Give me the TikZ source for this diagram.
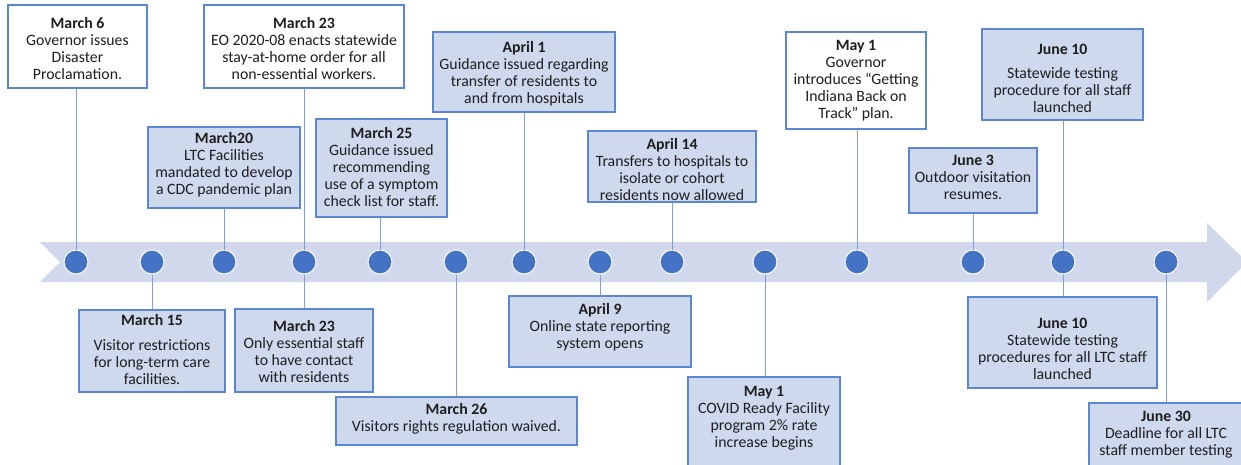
\documentclass[tikz,border=0pt]{standalone}
\usepackage{fontspec}
\setmainfont{Carlito}
\usetikzlibrary{fit}
\definecolor{boxfill}{HTML}{CFD9EE}
\definecolor{bandc}{HTML}{D1D8EC}
\definecolor{edgec}{HTML}{5A86D4}
\definecolor{dotc}{HTML}{4472C4}
\definecolor{linkc}{HTML}{7E9FDC}
\definecolor{txtc}{HTML}{1E1E1E}
\tikzset{
  evbox/.style={draw=edgec, line width=1.3pt, fill=boxfill, inner sep=0pt},
  whitebox/.style={draw=edgec, line width=1.3pt, fill=white, inner sep=0pt},
  evtext/.style={anchor=north, inner sep=0pt, align=center, font=\fontsize{15.8}{17}\selectfont, text=txtc, yshift=-0.6pt},
  evdot/.style={circle, fill=dotc, draw=white, line width=1pt, minimum size=24pt, inner sep=0pt},
  evlink/.style={draw=linkc, line width=1pt}
}
\begin{document}
\begin{tikzpicture}[x=1pt,y=-1pt]
\useasboundingbox (0,0) rectangle (1241,465);
\clip (0,0) rectangle (1241,465);
% band arrow
\fill[bandc] (40,242) -- (1207,242) -- (1207,223) -- (1247,262) -- (1207,302) -- (1207,282) -- (40,282) -- (60,262) -- cycle;
% dots
\node[evdot] (d1) at (76,262) {};
\node[evdot] (d2) at (152,262) {};
\node[evdot] (d3) at (224,262) {};
\node[evdot] (d4) at (304,262) {};
\node[evdot] (d5) at (380,262) {};
\node[evdot] (d6) at (456,262) {};
\node[evdot] (d7) at (524,262) {};
\node[evdot] (d8) at (600,262) {};
\node[evdot] (d9) at (672,262) {};
\node[evdot] (d10) at (765,262) {};
\node[evdot] (d11) at (857,262) {};
\node[evdot] (d12) at (973,262) {};
\node[evdot] (d13) at (1063,262) {};
\node[evdot] (d14) at (1166,262) {};
% boxes above
\node[whitebox, fit={(8,5) (147,88)}] (b1) {};
\node[whitebox, fit={(204,5) (404,88)}] (b2) {};
\node[evbox, fit={(148,127) (300,208)}] (b3) {};
\node[evbox, fit={(316,119) (447,217)}] (b4) {};
\node[evbox, fit={(433,32) (615,112)}] (b5) {};
\node[evbox, fit={(588,131) (756,202)}] (b6) {};
\node[whitebox, fit={(786,32) (926,129)}] (b7) {};
\node[evbox, fit={(909,148) (1037,213)}] (b8) {};
\node[evbox, fit={(982,29) (1143,120)}] (b9) {};
% boxes below
\node[evbox, fit={(79,310) (225,392)}] (b10) {};
\node[evbox, fit={(235,309) (373,392)}] (b11) {};
\node[evbox, fit={(336,397) (577,445)}] (b12) {};
\node[evbox, fit={(509,296) (691,367)}] (b13) {};
\node[evbox, fit={(688,377) (840,475)}] (b14) {};
\node[evbox, fit={(968,297) (1157,388)}] (b15) {};
\node[evbox, fit={(1089,403) (1250,475)}] (b16) {};
% connectors
\draw[evlink] (b1.south -| d1) -- (d1.north);
\draw[evlink] (b2.south -| d4) -- (d4.north);
\draw[evlink] (b3.south -| d3) -- (d3.north);
\draw[evlink] (b4.south -| d5) -- (d5.north);
\draw[evlink] (b5.south -| d7) -- (d7.north);
\draw[evlink] (b6.south -| d9) -- (d9.north);
\draw[evlink] (b7.south -| d11) -- (d11.north);
\draw[evlink] (b8.south -| d12) -- (d12.north);
\draw[evlink] (b9.south -| d13) -- (d13.north);
\draw[evlink] (d2.south) -- (b10.north -| d2);
\draw[evlink] (d4.south) -- (b11.north -| d4);
\draw[evlink] (d6.south) -- (b12.north -| d6);
\draw[evlink] (d8.south) -- (b13.north -| d8);
\draw[evlink] (d10.south) -- (b14.north -| d10);
\draw[evlink] (d13.south) -- (b15.north -| d13);
\draw[evlink] (d14.south) -- (b16.north -| d14);
% texts
\node[evtext] (t1) at (77.5,15.6) {\strut\textbf{March 6}\\Governor issues\\Disaster\\Proclamation.};
\node[evtext] (t2) at (304,15.6) {\strut\textbf{March 23}\\EO 2020-08 enacts statewide\\stay-at-home order for all\\non-essential workers.};
\node[evtext] (t3) at (224,130.6) {\strut\textbf{March20}\\LTC Facilities\\mandated to develop\\a CDC pandemic plan};
\node[evtext] (t4) at (381.5,125.6) {\strut\textbf{March 25}\\Guidance issued\\recommending\\use of a symptom\\check list for staff.};
\node[evtext] (t5) at (524,39.6) {\strut\textbf{April 1}\\Guidance issued regarding\\transfer of residents to\\and from hospitals};
\node[evtext] (t6) at (672,136.6) {\strut\textbf{April 14}\\Transfers to hospitals to\\isolate or cohort\\residents now allowed};
\node[evtext] (t7) at (856,37.6) {\strut\textbf{May 1}\\Governor\\introduces “Getting\\Indiana Back on\\Track” plan.};
\node[evtext] (t8) at (973,152.6) {\strut\textbf{June 3}\\Outdoor visitation\\resumes.};
\node[evtext] (t9) at (1062.5,41.6) {\strut\textbf{June 10}\\[7pt]Statewide testing\\procedure for all staff\\launched};
\node[evtext] (t10) at (152,312.6) {\strut\textbf{March 15}\\[8pt]Visitor restrictions\\for long-term care\\facilities.};
\node[evtext] (t11) at (304,318.6) {\strut\textbf{March 23}\\Only essential staff\\to have contact\\with residents};
\node[evtext] (t12) at (456.5,401.6) {\strut\textbf{March 26}\\Visitors rights regulation waived.};
\node[evtext] (t13) at (600,301.6) {\strut\textbf{April 9}\\Online state reporting\\system opens};
\node[evtext] (t14) at (764,383.6) {\strut\textbf{May 1}\\COVID Ready Facility\\program 2\% rate\\increase begins};
\node[evtext] (t15) at (1062.5,315.6) {\strut\textbf{June 10}\\Statewide testing\\procedures for all LTC staff\\launched};
\node[evtext] (t16) at (1166,408.6) {\strut\textbf{June 30}\\Deadline for all LTC\\staff member testing};
\end{tikzpicture}
\end{document}
